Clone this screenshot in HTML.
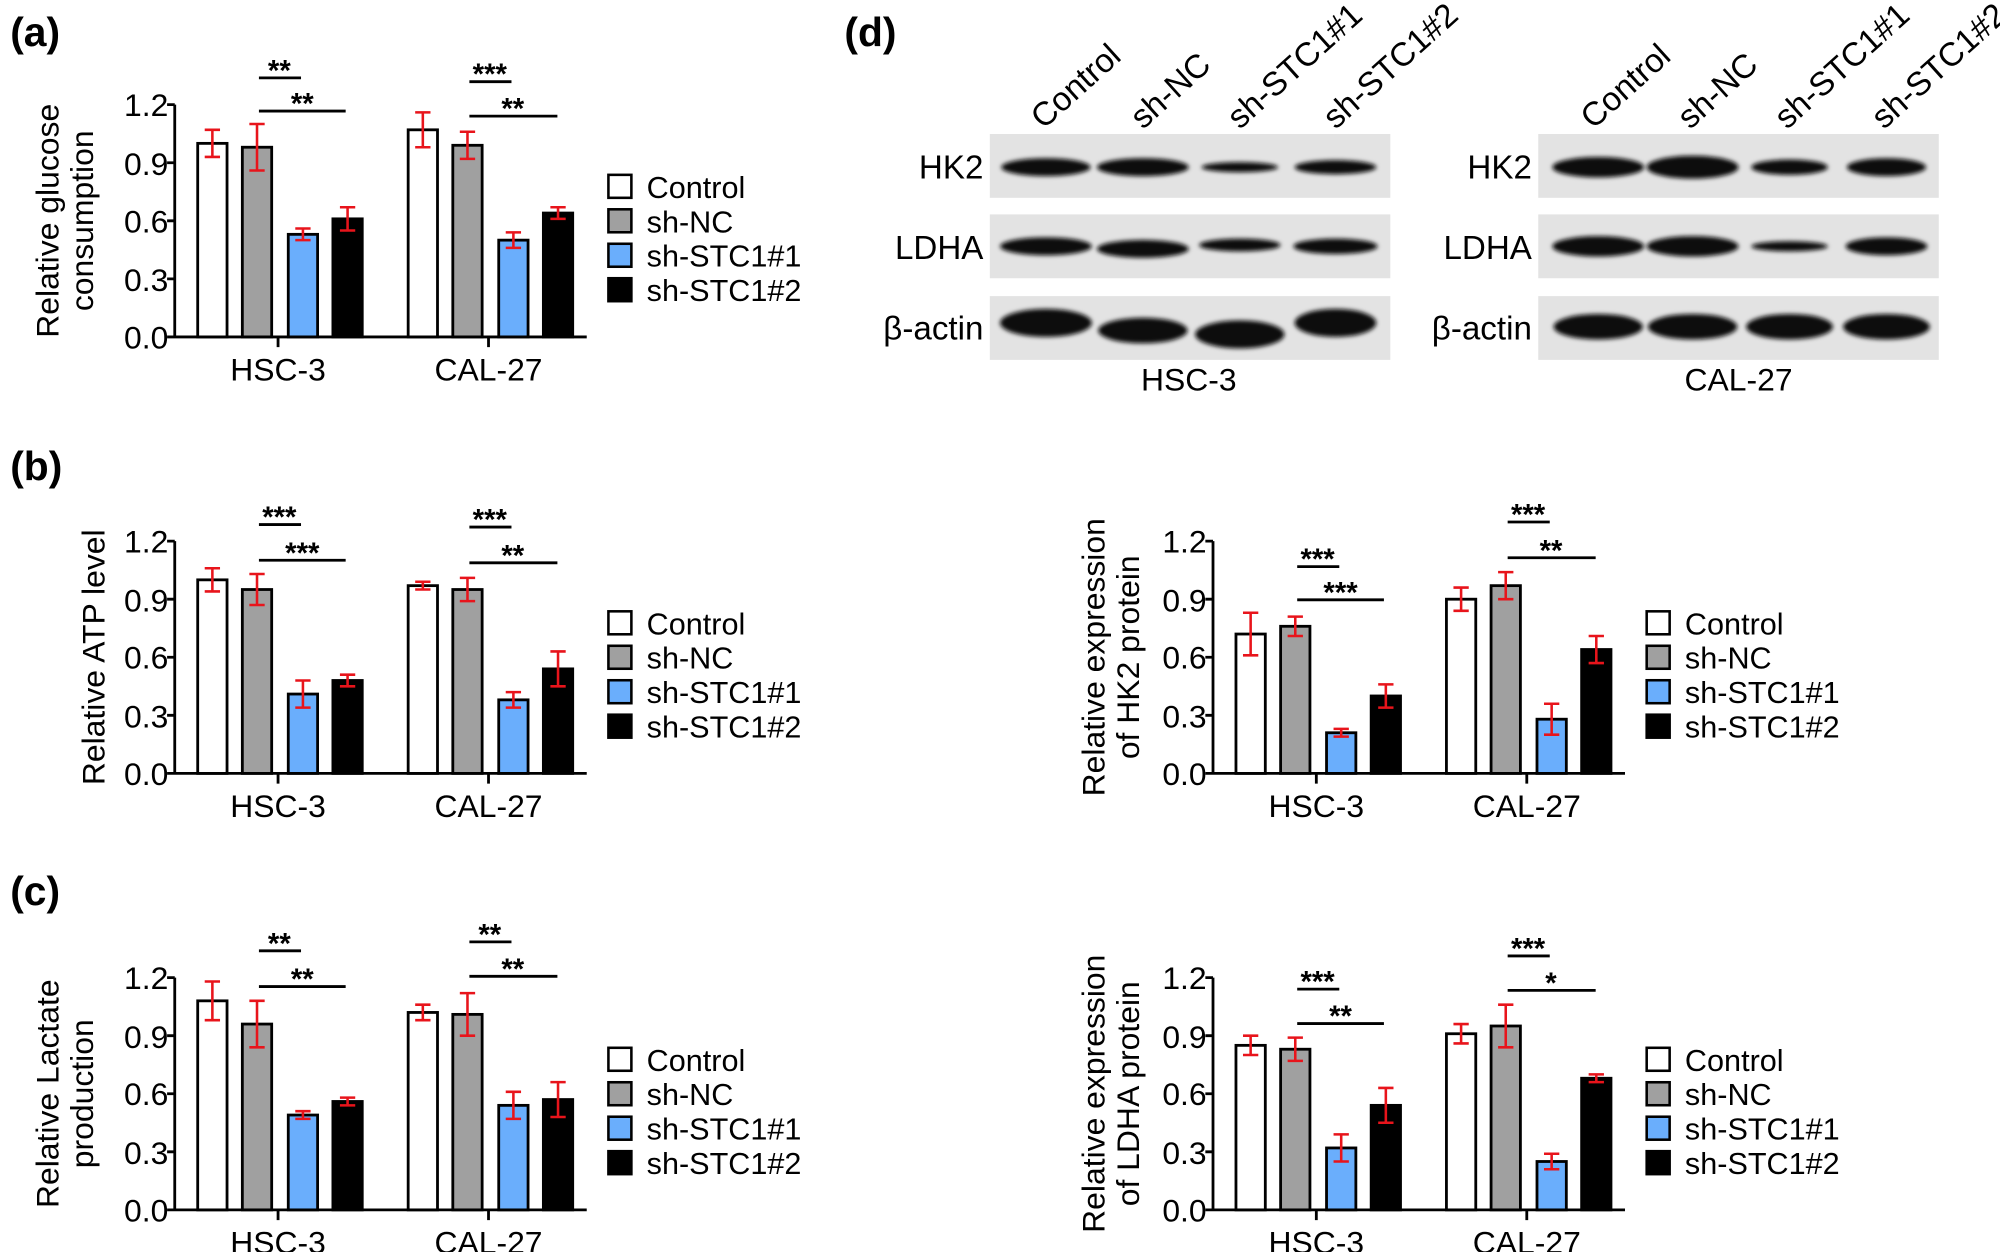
<!DOCTYPE html>
<html><head><meta charset="utf-8"><style>
html,body{margin:0;padding:0;background:#fff}
svg{display:block}
text{font-family:"Liberation Sans",Arial,sans-serif;fill:#000}
.t{font-size:24px}
.tk{font-size:25px;text-anchor:end}
.gl{font-size:25px;text-anchor:middle}
.st{font-size:23px;font-weight:bold;text-anchor:middle}
.pl{font-size:32px;font-weight:bold}
.yl{font-size:25px;text-anchor:middle}
.lb{font-size:26px}
</style></head><body>
<svg id="s" width="2000" height="1252" viewBox="0 0 1568 981" preserveAspectRatio="none" xmlns="http://www.w3.org/2000/svg">
<defs><filter id="bl" x="-20%" y="-50%" width="140%" height="200%"><feGaussianBlur stdDeviation="1.6"/></filter></defs>
<text class="pl" x="8" y="36">(a)</text>
<text class="pl" x="8" y="376">(b)</text>
<text class="pl" x="8" y="709">(c)</text>
<text class="pl" x="662" y="36">(d)</text>

<g id="pa" transform="translate(0,0)">
<text class="yl" transform="translate(54,173) rotate(-90)">Relative glucose</text>
<text class="yl" transform="translate(81,173) rotate(-90)">consumption</text>
<text class="st" x="219" y="63">**</text><text class="st" x="237" y="89">**</text>
<text class="st" x="384" y="66">***</text><text class="st" x="402" y="93">**</text>
</g>
<g id="pb" transform="translate(0,342)">
<text class="yl" transform="translate(82,173) rotate(-90)">Relative ATP level</text>
<text class="st" x="219" y="71">***</text><text class="st" x="237" y="99">***</text>
<text class="st" x="384" y="73">***</text><text class="st" x="402" y="101">**</text>
</g>
<g id="pc" transform="translate(0,684)">
<text class="yl" transform="translate(54,173) rotate(-90)">Relative Lactate</text>
<text class="yl" transform="translate(81,173) rotate(-90)">production</text>
<text class="st" x="219" y="63">**</text><text class="st" x="237" y="91">**</text>
<text class="st" x="384" y="56">**</text><text class="st" x="402" y="83">**</text>
</g>
<g id="pd" transform="translate(814,342)">
<text class="yl" transform="translate(52,173) rotate(-90)">Relative expression</text>
<text class="yl" transform="translate(79,173) rotate(-90)">of HK2 protein</text>
<text class="st" x="219" y="104">***</text><text class="st" x="237" y="130">***</text>
<text class="st" x="384" y="69">***</text><text class="st" x="402" y="97">**</text>
</g>
<g id="pe" transform="translate(814,684)">
<text class="yl" transform="translate(52,173) rotate(-90)">Relative expression</text>
<text class="yl" transform="translate(79,173) rotate(-90)">of LDHA protein</text>
<text class="st" x="219" y="93">***</text><text class="st" x="237" y="120">**</text>
<text class="st" x="384" y="67">***</text><text class="st" x="402" y="94">*</text>
</g>

<g transform="translate(0,0)"><text class="tk" x="132" y="273">0.0</text><text class="tk" x="132" y="228">0.3</text><text class="tk" x="132" y="182">0.6</text><text class="tk" x="132" y="137">0.9</text><text class="tk" x="132" y="91">1.2</text><text class="gl" x="218" y="298">HSC-3</text><text class="gl" x="383" y="298">CAL-27</text><text class="t" x="507" y="155">Control</text><text class="t" x="507" y="182">sh-NC</text><text class="t" x="507" y="209">sh-STC1#1</text><text class="t" x="507" y="236">sh-STC1#2</text></g>
<g transform="translate(0,342)"><text class="tk" x="132" y="273">0.0</text><text class="tk" x="132" y="228">0.3</text><text class="tk" x="132" y="182">0.6</text><text class="tk" x="132" y="137">0.9</text><text class="tk" x="132" y="91">1.2</text><text class="gl" x="218" y="298">HSC-3</text><text class="gl" x="383" y="298">CAL-27</text><text class="t" x="507" y="155">Control</text><text class="t" x="507" y="182">sh-NC</text><text class="t" x="507" y="209">sh-STC1#1</text><text class="t" x="507" y="236">sh-STC1#2</text></g>
<g transform="translate(0,684)"><text class="tk" x="132" y="273">0.0</text><text class="tk" x="132" y="228">0.3</text><text class="tk" x="132" y="182">0.6</text><text class="tk" x="132" y="137">0.9</text><text class="tk" x="132" y="91">1.2</text><text class="gl" x="218" y="298">HSC-3</text><text class="gl" x="383" y="298">CAL-27</text><text class="t" x="507" y="155">Control</text><text class="t" x="507" y="182">sh-NC</text><text class="t" x="507" y="209">sh-STC1#1</text><text class="t" x="507" y="236">sh-STC1#2</text></g>
<g transform="translate(814,342)"><text class="tk" x="132" y="273">0.0</text><text class="tk" x="132" y="228">0.3</text><text class="tk" x="132" y="182">0.6</text><text class="tk" x="132" y="137">0.9</text><text class="tk" x="132" y="91">1.2</text><text class="gl" x="218" y="298">HSC-3</text><text class="gl" x="383" y="298">CAL-27</text><text class="t" x="507" y="155">Control</text><text class="t" x="507" y="182">sh-NC</text><text class="t" x="507" y="209">sh-STC1#1</text><text class="t" x="507" y="236">sh-STC1#2</text></g>
<g transform="translate(814,684)"><text class="tk" x="132" y="273">0.0</text><text class="tk" x="132" y="228">0.3</text><text class="tk" x="132" y="182">0.6</text><text class="tk" x="132" y="137">0.9</text><text class="tk" x="132" y="91">1.2</text><text class="gl" x="218" y="298">HSC-3</text><text class="gl" x="383" y="298">CAL-27</text><text class="t" x="507" y="155">Control</text><text class="t" x="507" y="182">sh-NC</text><text class="t" x="507" y="209">sh-STC1#1</text><text class="t" x="507" y="236">sh-STC1#2</text></g>

<g id="wb"></g>
<text class="lb" x="771" y="140" text-anchor="end">HK2</text>
<text class="lb" x="771" y="203" text-anchor="end">LDHA</text>
<text class="lb" x="771" y="266" text-anchor="end">β-actin</text>
<text class="lb" x="1201" y="140" text-anchor="end">HK2</text>
<text class="lb" x="1201" y="203" text-anchor="end">LDHA</text>
<text class="lb" x="1201" y="266" text-anchor="end">β-actin</text>
<text class="gl" x="932" y="306">HSC-3</text>
<text class="gl" x="1363" y="306">CAL-27</text>
<text class="lb" transform="translate(818,102) rotate(-42)">Control</text>
<text class="lb" transform="translate(896,102) rotate(-42)">sh-NC</text>
<text class="lb" transform="translate(972,102) rotate(-42)">sh-STC1#1</text>
<text class="lb" transform="translate(1047,102) rotate(-42)">sh-STC1#2</text>
<text class="lb" transform="translate(1249,102) rotate(-42)">Control</text>
<text class="lb" transform="translate(1325,102) rotate(-42)">sh-NC</text>
<text class="lb" transform="translate(1401,102) rotate(-42)">sh-STC1#1</text>
<text class="lb" transform="translate(1477,102) rotate(-42)">sh-STC1#2</text>
</svg>
<script>
var NS="http://www.w3.org/2000/svg";
function el(p,t,a){var e=document.createElementNS(NS,t);for(var k in a)e.setAttribute(k,a[k]);p.appendChild(e);return e;}
var fills=["#fff","#a0a0a0","#6aaefc","#000"];
var bx=[155,190,226,261,320,355,391,426];
function panel(id,v,er,sig){
 var g=document.getElementById(id),y0=264,sc=182/1.2,ax=137;
 for(var i=0;i<8;i++){var h=v[i]*sc;
  el(g,"rect",{x:bx[i],y:y0-h,width:23,height:h,fill:fills[i%4],stroke:"#000","stroke-width":2.2});
  var cx=bx[i]+11.5,t=y0-(v[i]+er[i])*sc,b=y0-(v[i]-er[i])*sc;
  el(g,"path",{d:"M"+cx+" "+t+"V"+b+"M"+(cx-6)+" "+t+"h12M"+(cx-6)+" "+b+"h12",stroke:"#e8141b","stroke-width":2,fill:"none"});}
 el(g,"path",{d:"M"+ax+" 82V264H460M"+(ax-6)+" 82h6M"+(ax-6)+" 127.5h6M"+(ax-6)+" 173h6M"+(ax-6)+" 218.5h6M"+(ax-6)+" 264h6M218 264v8M383 264v8",stroke:"#000","stroke-width":2.2,fill:"none"});
 var L=[[203,236],[203,271],[368,401],[368,437]];
 for(var j=0;j<4;j++)el(g,"line",{x1:L[j][0],x2:L[j][1],y1:sig[j],y2:sig[j],stroke:"#000","stroke-width":2.2});
 for(var k=0;k<4;k++)el(g,"rect",{x:477,y:137+27*k,width:18,height:18,fill:fills[k],stroke:"#000","stroke-width":2});
}
panel("pa",[1.0,.98,.53,.61,1.07,.99,.5,.64],[.07,.12,.03,.06,.09,.07,.04,.03],[61,87,64,91]);
panel("pb",[1.0,.95,.41,.48,.97,.95,.38,.54],[.06,.08,.07,.03,.02,.06,.04,.09],[69,97,71,99]);
panel("pc",[1.08,.96,.49,.56,1.02,1.01,.54,.57],[.10,.12,.02,.02,.04,.11,.07,.09],[61,89,54,81]);
panel("pd",[.72,.76,.21,.40,.90,.97,.28,.64],[.11,.05,.02,.06,.06,.07,.08,.07],[102,128,67,95]);
panel("pe",[.85,.83,.32,.54,.91,.95,.25,.68],[.05,.06,.07,.09,.05,.11,.04,.02],[91,118,65,92]);
var wb=document.getElementById("wb");
var rows=[[105,155,131],[168,218,193],[232,282,256]];
var lanes=[[820,896,972,1047],[1253,1327,1403,1479]];
var boxes=[[776,1090],[1206,1520]];
var th=[[[14,14,8,11],[14,14,10,12],[22,20,22,22]],[[16,18,12,14],[16,16,8,14],[20,20,20,20]]];
var wd=[[[70,72,60,64],[72,72,64,66],[72,70,70,64]],[[72,72,60,62],[72,72,60,64],[70,70,68,68]]];
var dy=[[[0,0,0,0],[0,2,-1,0],[-3,3,6,-3]],[[0,0,0,0],[0,0,0,0],[0,0,0,0]]];
for(var b=0;b<2;b++)for(var r=0;r<3;r++){
 el(wb,"rect",{x:boxes[b][0],y:rows[r][0],width:boxes[b][1]-boxes[b][0],height:50,fill:"#e3e3e3"});
 for(var l=0;l<4;l++)el(wb,"ellipse",{cx:lanes[b][l],cy:rows[r][2]+dy[b][r][l],rx:wd[b][r][l]/2,ry:th[b][r][l]/2,fill:"#0d0d0d",filter:"url(#bl)"});
}
for(var id of ["pa","pc"]){var ts=document.querySelectorAll("#"+id+" .yl");ts[0].setAttribute("transform","translate(46,173) rotate(-90)");ts[1].setAttribute("transform","translate(73,173) rotate(-90)");}
</script>
</body></html>
